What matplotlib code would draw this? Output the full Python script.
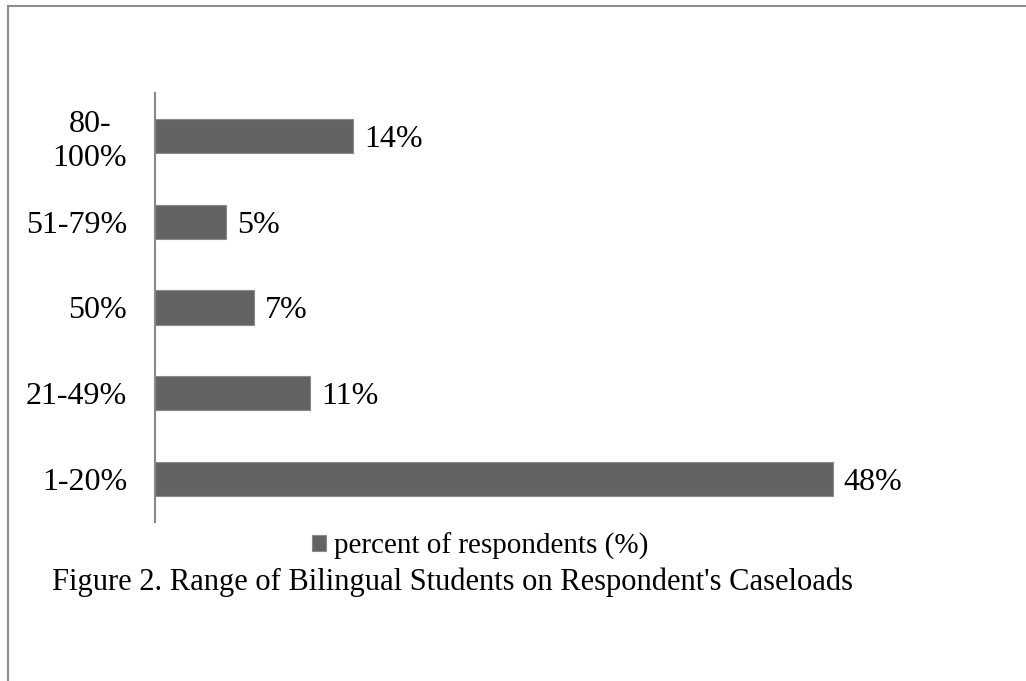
import matplotlib
matplotlib.use("Agg")
import matplotlib.pyplot as plt
from matplotlib.patches import Rectangle

categories = ["1-20%", "21-49%", "50%", "51-79%", "80-\n100%"]
values = [48, 11, 7, 5, 14]
value_labels = ["48%", "11%", "7%", "5%", "14%"]
legend_label = "percent of respondents (%)"
caption = "Figure 2. Range of Bilingual Students on Respondent's Caseloads"

plt.rcParams['font.family'] = ['Liberation Serif', 'DejaVu Serif']
W, H = 1026, 681
fig = plt.figure(figsize=(W / 100, H / 100), dpi=100)
ax = fig.add_axes([155 / W, 159 / H, 706 / W, 429 / H])

bar_color = "#636363"
bars = ax.barh(range(len(categories)), values, height=0.4, color=bar_color,
               edgecolor="#8a8a8a", linewidth=0.8, label=legend_label)
ax.set_xlim(0, 50)
ax.set_ylim(-0.5, len(categories) - 0.5)
ax.set_yticks(range(len(categories)))
ax.set_yticklabels(categories, fontsize=23, multialignment='center')
ax.tick_params(axis='y', length=0, pad=20)
ax.set_xticks([])
for s in ["top", "right", "bottom"]:
    ax.spines[s].set_visible(False)
ax.spines["left"].set_color("#888888")
ax.spines["left"].set_linewidth(1.5)

for b, lab in zip(bars, value_labels):
    ax.annotate(lab, (b.get_width(), b.get_y() + b.get_height() / 2),
                xytext=(8, 0), textcoords="offset points",
                ha="left", va="center_baseline", fontsize=23)

leg = fig.legend(loc="center", bbox_to_anchor=(480 / W, 1 - 546 / H),
                 frameon=False, fontsize=21, handlelength=0.5,
                 handleheight=0.5, handletextpad=0.25)

fig.text(52 / W, 1 - 582 / H, caption, fontsize=22, ha="left", va="center")

fig.add_artist(Rectangle((8 / W, -0.1), 1.2, 1 - 6.5 / H + 0.1,
                         transform=fig.transFigure, fill=False,
                         edgecolor="#8c8c8c", linewidth=1.5))

fig.savefig("out.png", dpi=100, facecolor="white")
